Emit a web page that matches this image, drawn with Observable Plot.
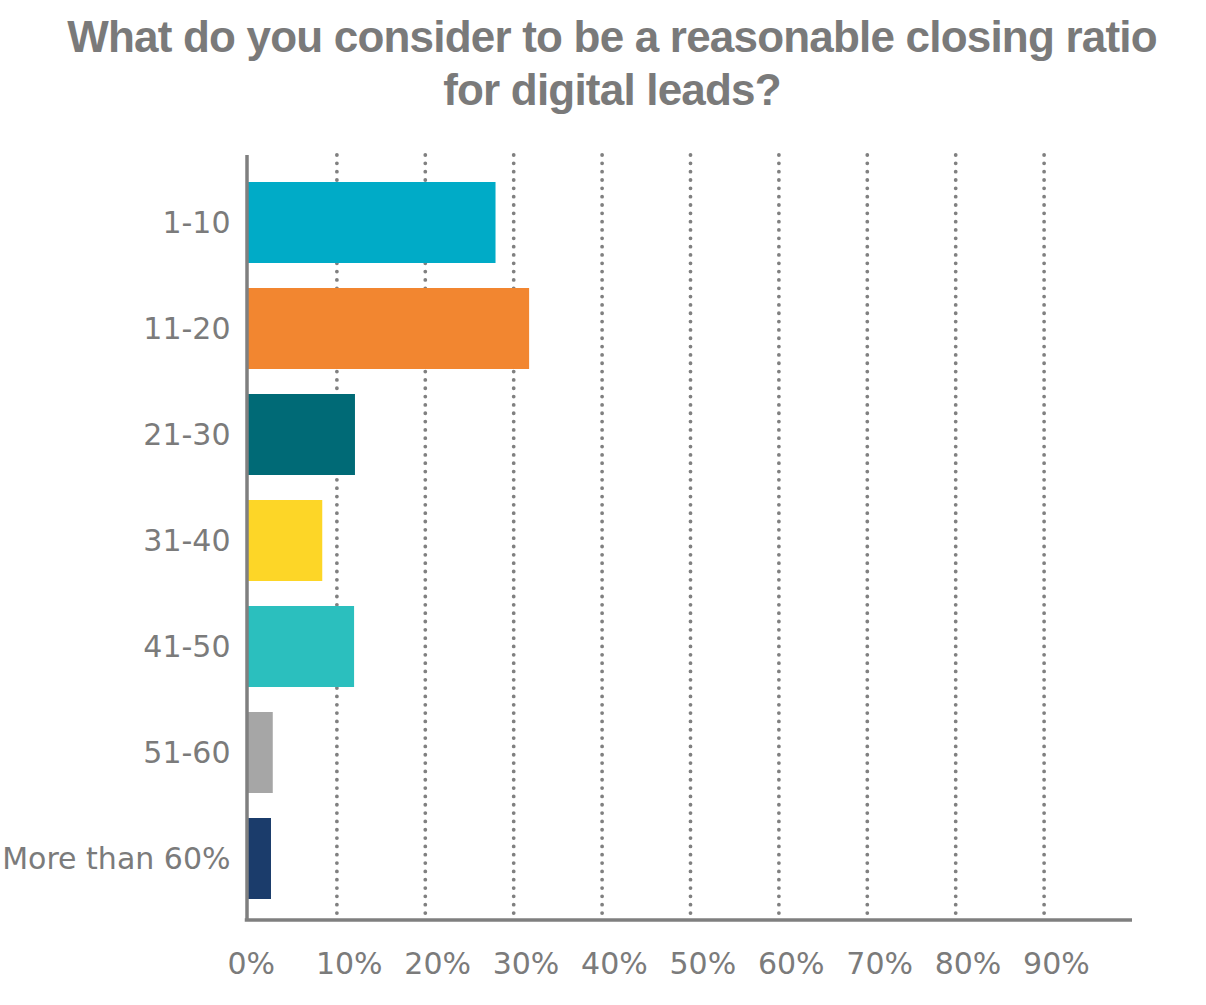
<!DOCTYPE html>
<html>
<head>
<meta charset="utf-8">
<script src="https://cdn.jsdelivr.net/npm/d3@7"></script>
<script src="https://cdn.jsdelivr.net/npm/@observablehq/plot@0.6"></script>
<style>
  html, body { margin: 0; padding: 0; background: #ffffff; }
  #wrap { width: 1206px; }
  #title {
    box-sizing: border-box;
    height: 130px;
    padding-top: 10px;
    padding-left: 18px;
    text-align: center;
    font-family: "Liberation Sans", Arial, sans-serif;
    font-weight: bold;
    font-size: 44px;
    line-height: 53px;
    letter-spacing: -0.8px;
    color: #7a7a7a;
  }
</style>
</head>
<body>
<div id="wrap">
  <div id="title">What do you consider to be a reasonable closing ratio<br>for digital leads?</div>
  <div id="chart"></div>
</div>
<script>
const categories = ["1-10", "11-20", "21-30", "31-40", "41-50", "51-60", "More than 60%"];
const values = [28.0, 31.8, 12.1, 8.4, 12.0, 2.8, 2.6];
const colors = ["#00abc7", "#f28630", "#006a76", "#fdd627", "#2bbfbe", "#a6a6a6", "#1b3c6b"];
const xTicks = [0, 10, 20, 30, 40, 50, 60, 70, 80, 90];
const gridTicks = [10, 20, 30, 40, 50, 60, 70, 80, 90];

const rows = categories.map((c, i) => ({category: c, value: values[i]}));

const W = 1206, H = 875;
const mL = 248, mR = 74, mT = 25, mB = 85;
const axisColor = "#7f7f7f";
const textColor = "#7b7b7b";

const plot = Plot.plot({
  width: W,
  height: H,
  marginLeft: mL,
  marginRight: mR,
  marginTop: mT,
  marginBottom: mB,
  style: {fontFamily: "'DejaVu Sans', sans-serif", fontSize: "30px", color: textColor, background: "#ffffff"},
  x: {domain: [0, 100]},
  y: {domain: categories, paddingInner: 0.24, paddingOuter: 0.215, align: 0.56},
  color: {domain: categories, range: colors},
  marks: [
    Plot.ruleX(gridTicks, {stroke: "#808080", strokeWidth: 3.8, strokeDasharray: "0 8.33", strokeLinecap: "round"}),
    Plot.barX(rows, {x: "value", y: "category", fill: "category"}),
    Plot.ruleX([0], {stroke: axisColor, strokeWidth: 3.5, dx: -1.5}),
    Plot.axisX({ticks: xTicks, tickFormat: d => d + "%", tickSize: 0, tickPadding: 32, textAnchor: "start", dx: -21, fontSize: 30, fill: textColor, label: null}),
    Plot.axisY({tickSize: 0, tickPadding: 18, fontSize: 30, fill: textColor, label: null})
  ]
});

document.getElementById("chart").appendChild(plot);

// bottom axis line, positioned from the plot's own x scale
const xs = plot.scale("x");
const yBottom = H - mB;
d3.select(plot).append("line")
  .attr("x1", xs.apply(0) - 3.25)
  .attr("x2", xs.apply(100))
  .attr("y1", yBottom)
  .attr("y2", yBottom)
  .attr("stroke", axisColor)
  .attr("stroke-width", 3.5);
</script>
</body>
</html>
